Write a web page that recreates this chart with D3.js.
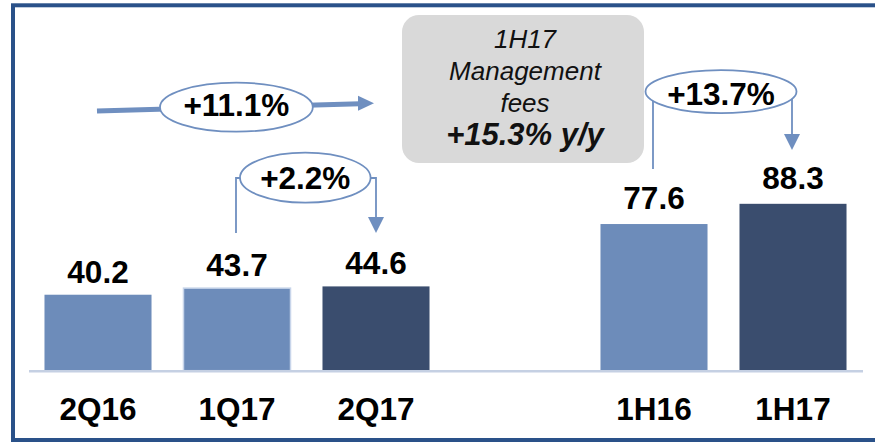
<!DOCTYPE html>
<html>
<head>
<meta charset="utf-8">
<script src="https://cdn.jsdelivr.net/npm/d3@7"></script>
<style>
  html, body { margin: 0; padding: 0; background: #fff; overflow: hidden; }
  svg { display: block; font-family: "Liberation Sans", Arial, sans-serif; }
</style>
</head>
<body>
<div id="chart"></div>
<script>
// data
const categories = ["2Q16", "1Q17", "2Q17", "1H16", "1H17"];
const values = [40.2, 43.7, 44.6, 77.6, 88.3];
const slots = ["2Q16", "1Q17", "2Q17", "", "1H16", "1H17"]; // "" = gap between quarters and halves
const highlighted = ["2Q17", "1H17"];

const growthLabels = ["+11.1%", "+2.2%", "+13.7%"];
const growthFrom = ["2Q16", "1Q17", "1H16"];
const growthTo = ["2Q17", "2Q17", "1H17"];

const calloutLines = ["1H17", "Management", "fees", "+15.3% y/y"];

const width = 875;
const height = 442;

const lightBlue = "#6d8cba";
const darkBlue = "#3a4d6e";
const lineBlue = "#6f8fc0";
const labelSize = "31.5px";

const svg = d3
  .select("#chart")
  .append("svg")
  .attr("width", width)
  .attr("height", height);

// frame (right edge runs off the picture)
svg
  .append("rect")
  .attr("x", 13)
  .attr("y", 5.3)
  .attr("width", 900)
  .attr("height", 434.7)
  .attr("fill", "none")
  .attr("stroke", "#2a5189")
  .attr("stroke-width", 4);

const x = d3
  .scaleBand()
  .domain(slots)
  .range([28.5, 862.5])
  .paddingInner(0.23)
  .paddingOuter(0.115);

const y = d3.scaleLinear().domain([0, 100]).range([370.7, 181.7]);

const cx = (c) => x(c) + x.bandwidth() / 2;

// bars
svg
  .selectAll("rect.bar")
  .data(categories)
  .join("rect")
  .attr("class", "bar")
  .attr("x", (d) => x(d))
  .attr("width", x.bandwidth())
  .attr("y", (d, i) => y(values[i]))
  .attr("height", (d, i) => y(0) - y(values[i]))
  .attr("fill", (d) => (highlighted.includes(d) ? darkBlue : lightBlue))
  .attr("stroke", (d) => (d === "1Q17" ? "#c8d5ea" : "none"))
  .attr("stroke-width", 1.5);

// x axis
const xAxis = svg
  .append("g")
  .attr("transform", `translate(0,${y(0)})`)
  .call(d3.axisBottom(x).tickSize(0).tickSizeOuter(0).tickPadding(27));

xAxis.select(".domain").attr("stroke", "#c5d0e3").attr("stroke-width", 2.5);
xAxis
  .selectAll("text")
  .attr("fill", "#000")
  .style("font-size", labelSize)
  .style("font-weight", "bold")
  .style("font-family", '"Liberation Sans", Arial, sans-serif');

// value labels
svg
  .selectAll("text.value")
  .data(categories)
  .join("text")
  .attr("class", "value")
  .attr("x", (d) => cx(d))
  .attr("y", (d, i) => y(values[i]) - (i > 2 ? 15 : 12))
  .attr("text-anchor", "middle")
  .style("font-size", labelSize)
  .style("font-weight", "bold")
  .text((d, i) => values[i].toFixed(1));

// grey callout box
svg
  .append("rect")
  .attr("x", 402)
  .attr("y", 15)
  .attr("width", 242)
  .attr("height", 148)
  .attr("rx", 17)
  .attr("fill", "#d9d9d9");

const lineY = [47.7, 80, 111.7, 145];
svg
  .selectAll("text.callout")
  .data(calloutLines)
  .join("text")
  .attr("class", "callout")
  .attr("x", 525)
  .attr("y", (d, i) => lineY[i])
  .attr("text-anchor", "middle")
  .attr("fill", "#111")
  .style("font-style", "italic")
  .style("font-size", (d, i) => (i === 3 ? "31px" : "26px"))
  .style("font-weight", (d, i) => (i === 3 ? "bold" : "normal"))
  .text((d) => d);

// +11.1% : long arrow from 2Q16 to 2Q17, above the bars
const a0 = { x: cx(growthFrom[0]) - 1, y: 111 };
const a1 = { x: cx(growthTo[0]) - 2, y: 103.3 };
svg
  .append("line")
  .attr("x1", a0.x)
  .attr("y1", a0.y)
  .attr("x2", a1.x - 14)
  .attr("y2", a1.y + 0.4)
  .attr("stroke", lineBlue)
  .attr("stroke-width", 5);
svg
  .append("path")
  .attr("d", `M${a1.x - 16},${a1.y - 7.5}L${a1.x},${a1.y}L${a1.x - 16},${a1.y + 7.5}Z`)
  .attr("fill", lineBlue);

// bracket connectors for +2.2% and +13.7%
const brackets = [
  { i: 1, top: 178, leftEnd: 233, arrowTip: 233 },
  { i: 2, top: 92, leftEnd: 169, arrowTip: 150 }
];
brackets.forEach((b) => {
  const xl = cx(growthFrom[b.i]) - 1;
  const xr = cx(growthTo[b.i]) - (b.i === 2 ? 1 : 0);
  svg
    .append("path")
    .attr("d", `M${xl},${b.leftEnd}V${b.top}H${xr}V${b.arrowTip - 15}`)
    .attr("fill", "none")
    .attr("stroke", lineBlue)
    .attr("stroke-width", 1.8);
  svg
    .append("path")
    .attr(
      "d",
      `M${xr - 8},${b.arrowTip - 16}L${xr + 8},${b.arrowTip - 16}L${xr},${b.arrowTip}Z`
    )
    .attr("fill", lineBlue);
});

// ellipses with growth labels
const ellipses = [
  { cx: 236.4, cy: 107.2, rx: 76.4, ry: 24.5, base: 115.5 },
  { cx: 305.3, cy: 177.7, rx: 65.3, ry: 25, base: 188.5 },
  { cx: 721, cy: 91.6, rx: 75.5, ry: 21.5, base: 104.8 }
];
ellipses.forEach((e, i) => {
  svg
    .append("ellipse")
    .attr("cx", e.cx)
    .attr("cy", e.cy)
    .attr("rx", e.rx)
    .attr("ry", e.ry)
    .attr("fill", "#fff")
    .attr("stroke", lineBlue)
    .attr("stroke-width", 1.8);
  svg
    .append("text")
    .attr("x", e.cx)
    .attr("y", e.base)
    .attr("text-anchor", "middle")
    .style("font-size", labelSize)
    .style("font-weight", "bold")
    .text(growthLabels[i]);
});
</script>
</body>
</html>
